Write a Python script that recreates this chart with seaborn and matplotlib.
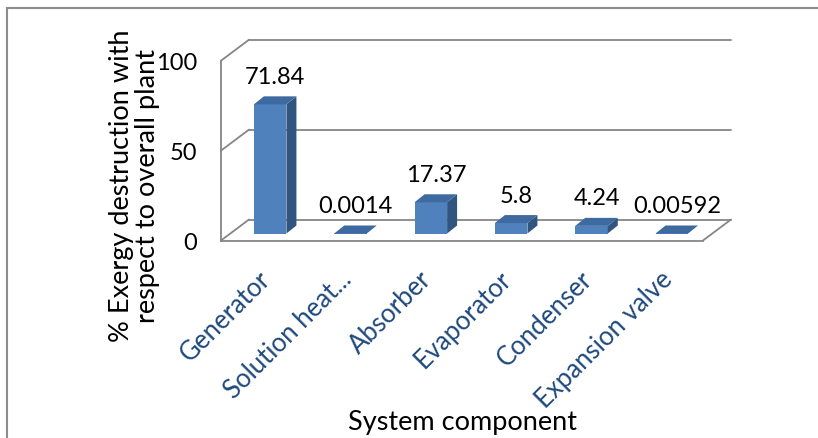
import numpy as np
import pandas as pd
import matplotlib
matplotlib.use("Agg")
import matplotlib.pyplot as plt
import seaborn as sns
from matplotlib.patches import Polygon, Rectangle

# Share of the plant's exergy destruction per component (%)
components = ["Generator", "Solution heat...", "Absorber", "Evaporator",
              "Condenser", "Expansion valve"]
destruction = [71.84, 0.0014, 17.37, 5.8, 4.24, 0.00592]
value_labels = ["71.84", "0.0014", "17.37", "5.8", "4.24", "0.00592"]
y_ticks = [0, 50, 100]

sns.set_style("white")
plt.rcParams["font.family"] = ["Lato", "DejaVu Sans"]

GRID = "#868686"
FRONT, SIDE, TOP = "#4F81BD", "#32557F", "#3E6AA0"
CAT_COLOR = "#1F497D"
FS_NUM = 17      # numbers (value labels, y ticks)
FS_TXT = 19.5    # axis titles
FS_CAT = 18.5    # category names

W, H = 818, 439
fig = plt.figure(figsize=(W / 100, H / 100), dpi=100)

# front plane of the 3-D box, in pixels
x0, x1 = 221, 703
y0, y1 = 241.5, 61.7
ax = fig.add_axes([x0 / W, 1 - y0 / H, (x1 - x0) / W, (y0 - y1) / H])

df = pd.DataFrame({"component": components, "value": destruction})
sns.barplot(data=df, x="component", y="value", ax=ax, color=FRONT,
            width=0.405, saturation=1, edgecolor="none", zorder=3)
ax.set_xlim(-0.5, 5.5)
ax.set_ylim(0, 100)

px_x = (x1 - x0) / 6.0     # pixels per category
px_y = (y0 - y1) / 100.0   # pixels per percent


def ux(p):
    return p / px_x


def uy(p):
    return p / px_y


shift_x, shift_y = ux(9), uy(7)      # bars sit inside the box depth
depth_x, depth_y = ux(10), uy(8)     # bar depth
back_x, back_y = ux(28), uy(21)      # back wall offset

# back wall gridlines, floor and left wall edges
for v in y_ticks:
    ax.plot([-0.5, -0.5 + back_x], [v, v + back_y], color=GRID, lw=1.3,
            clip_on=False, zorder=1)
    ax.plot([-0.5 + back_x, 5.5 + back_x], [v + back_y, v + back_y],
            color=GRID, lw=1.3, clip_on=False, zorder=1)
ax.plot([5.5, 5.5 + back_x], [0, back_y], color=GRID, lw=1.3,
        clip_on=False, zorder=1)

# give each bar its side and top faces
for p, val in zip(ax.patches, destruction):
    p.set_x(p.get_x() + shift_x)
    p.set_y(shift_y)
    p.set_clip_on(False)
    xl = p.get_x()
    xr = xl + p.get_width()
    yb = shift_y
    yt = shift_y + p.get_height()
    side = Polygon([(xr, yb), (xr + depth_x, yb + depth_y),
                    (xr + depth_x, yt + depth_y), (xr, yt)],
                   closed=True, facecolor=SIDE, edgecolor="none",
                   clip_on=False, zorder=3)
    top = Polygon([(xl, yt), (xr, yt), (xr + depth_x, yt + depth_y),
                   (xl + depth_x, yt + depth_y)],
                  closed=True, facecolor=TOP, edgecolor="none",
                  clip_on=False, zorder=3)
    ax.add_patch(side)
    ax.add_patch(top)

# value labels above the bars
for i, (val, txt) in enumerate(zip(destruction, value_labels)):
    ax.annotate(txt, (i + shift_x + depth_x / 2, shift_y + val),
                xytext=(0, 28 * 0.72), textcoords="offset points",
                ha="center", va="center", fontsize=FS_NUM, color="black",
                annotation_clip=False, zorder=5)

# spines and ticks
for s in ["top", "right"]:
    ax.spines[s].set_visible(False)
for s in ["left", "bottom"]:
    ax.spines[s].set_color(GRID)
    ax.spines[s].set_linewidth(1.3)
    ax.spines[s].set_zorder(2)

ax.set_yticks(y_ticks)
ax.set_yticklabels([str(t) for t in y_ticks])
ax.tick_params(axis="y", length=5, width=1.3, color=GRID, pad=12,
               labelsize=FS_NUM, labelcolor="black")

ax.set_xticks(range(len(components)))
ax.set_xticklabels([])
ax.tick_params(axis="x", which="major", length=0)
ax.set_xticks(np.arange(-0.5, len(components)), minor=True)
ax.tick_params(axis="x", which="minor", length=6.5, width=1.3, color=GRID)

for i, name in enumerate(components):
    ax.text(i - ux(3), -uy(25), name, rotation=45, ha="right", va="top",
            rotation_mode="anchor", fontsize=FS_CAT, color=CAT_COLOR,
            clip_on=False)

ax.set_xlabel("")
ax.set_ylabel("")

fig.text(463 / W, 1 - 423 / H, "System component", ha="center",
         va="center", fontsize=FS_TXT, color="black")
fig.text(135 / W, 1 - 186 / H,
         "% Exergy destruction with\nrespect to overall plant",
         rotation=90, ha="center", va="center", fontsize=FS_TXT,
         linespacing=1.05, multialignment="center", color="black")

# chart area border
fig.patches.append(Rectangle((7 / W, -0.5), 2.0, 1.5 - 9 / H, fill=False,
                             edgecolor="#8C8C8C", lw=1.5,
                             transform=fig.transFigure, figure=fig))

fig.savefig("out.png", dpi=100)
